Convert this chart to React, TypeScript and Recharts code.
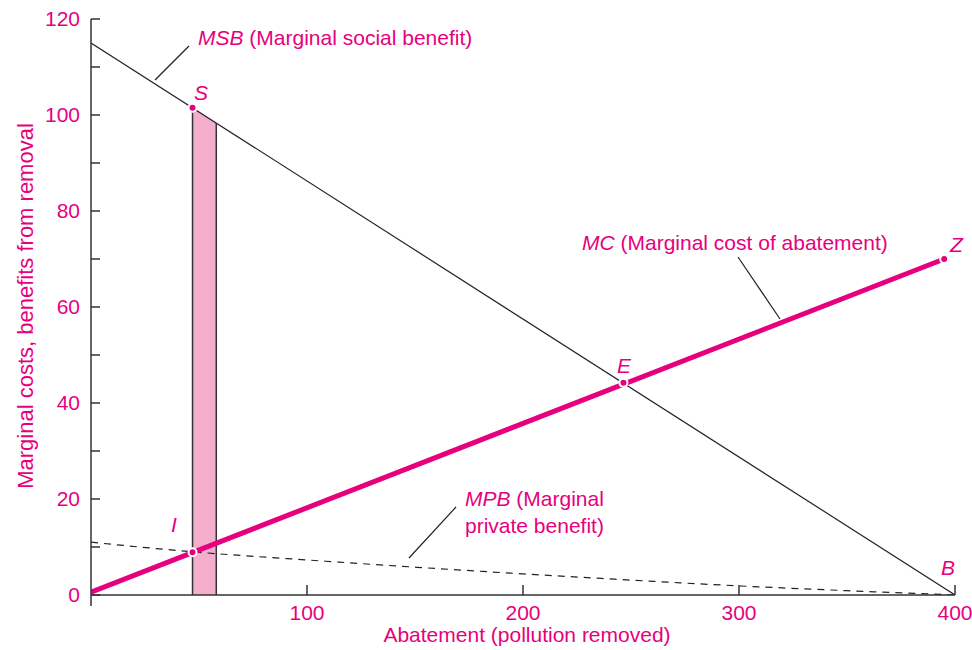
import React from "react";
import {
  ComposedChart,
  Line,
  Area,
  XAxis,
  YAxis,
  ReferenceDot,
  ReferenceLine,
} from "recharts";

const PINK = "#e6007e";
const SHADE = "#f4adcd";
const INK = "#333333";
const FONT = '"Liberation Sans", Arial, Helvetica, sans-serif';

// curves (x = abatement, y = $)
const msb = [
  { x: 0, y: 115 },
  { x: 400, y: 0 },
];
const mc = [
  { x: 0, y: 0.6 },
  { x: 395, y: 70 },
];
const mpb = [
  { x: 0, y: 11 },
  { x: 47, y: 9 },
  { x: 100, y: 7.3 },
  { x: 150, y: 5.8 },
  { x: 200, y: 4.4 },
  { x: 250, y: 3.1 },
  { x: 300, y: 1.9 },
  { x: 350, y: 0.9 },
  { x: 400, y: 0 },
];
// shaded strip under MSB between 47 and 58 units
const band = [
  { x: 47, y: 101.5 },
  { x: 58, y: 98.3 },
];
const points = [
  { name: "S", x: 47, y: 101.5 },
  { name: "I", x: 47, y: 8.9 },
  { name: "E", x: 246.5, y: 44.2 },
  { name: "Z", x: 395, y: 70 },
];
const xTicks = [100, 200, 300, 400];
const yTicks = [0, 10, 20, 30, 40, 50, 60, 70, 80, 90, 100, 110, 120];

const txt = { fill: PINK, fontFamily: FONT, fontSize: 21 };

export default function App() {
  return (
    <div style={{ position: "absolute", left: 0, top: 0, background: "#fff" }}>
      <ComposedChart
        width={972}
        height={650}
        margin={{ top: 19, right: 17, left: 31, bottom: 25 }}
      >
        <XAxis
          type="number"
          dataKey="x"
          domain={[0, 400]}
          ticks={xTicks}
          allowDataOverflow
          stroke={INK}
          strokeWidth={1.5}
          tickSize={-10}
          tickMargin={20}
          tick={{ ...txt }}
        />
        <YAxis
          type="number"
          domain={[0, 120]}
          ticks={yTicks}
          allowDataOverflow
          stroke={INK}
          strokeWidth={1.5}
          tickSize={-9}
          tickMargin={20}
          tick={{ ...txt }}
          tickFormatter={(v: number) => (v % 20 === 0 ? String(v) : "")}
        />

        <Area
          data={band}
          dataKey="y"
          type="linear"
          fill={SHADE}
          fillOpacity={1}
          stroke="none"
          isAnimationActive={false}
        />
        {band.map((b) => (
          <ReferenceLine
            key={b.x}
            segment={[
              { x: b.x, y: 0 },
              { x: b.x, y: b.y },
            ]}
            stroke={INK}
            strokeWidth={1.5}
          />
        ))}

        <Line
          data={msb}
          dataKey="y"
          type="linear"
          stroke="#222"
          strokeWidth={1.2}
          dot={false}
          activeDot={false}
          isAnimationActive={false}
        />
        <Line
          data={mpb}
          dataKey="y"
          type="monotone"
          stroke="#222"
          strokeWidth={1.2}
          strokeDasharray="7 6"
          dot={false}
          activeDot={false}
          isAnimationActive={false}
        />
        <Line
          data={mc}
          dataKey="y"
          type="linear"
          stroke={PINK}
          strokeWidth={5}
          dot={false}
          activeDot={false}
          isAnimationActive={false}
        />

        {points.map((p) => (
          <ReferenceDot
            key={p.name}
            x={p.x}
            y={p.y}
            r={4}
            fill={PINK}
            stroke="#fff"
            strokeWidth={2}
            ifOverflow="visible"
          />
        ))}

        {/* y axis runs a little below the x axis */}
        <line x1={91} y1={595} x2={91} y2={606} stroke={INK} strokeWidth={1.5} />

        {/* point letters */}
        <text x={194} y={100} {...txt} fontStyle="italic">S</text>
        <text x={171} y={532} {...txt} fontStyle="italic">I</text>
        <text x={617} y={373} {...txt} fontStyle="italic">E</text>
        <text x={950} y={252} {...txt} fontStyle="italic">Z</text>
        <text x={941} y={575} {...txt} fontStyle="italic">B</text>

        {/* curve labels and leaders */}
        <text x={198} y={45} {...txt}>
          <tspan fontStyle="italic">MSB</tspan> (Marginal social benefit)
        </text>
        <line x1={155} y1={80} x2={189} y2={46} stroke="#222" strokeWidth={1.2} />

        <text x={582} y={250} {...txt}>
          <tspan fontStyle="italic">MC</tspan> (Marginal cost of abatement)
        </text>
        <line x1={738} y1={257} x2={780} y2={319} stroke="#222" strokeWidth={1.2} />

        <text x={465} y={506} {...txt}>
          <tspan fontStyle="italic">MPB</tspan> (Marginal
        </text>
        <text x={465} y={533} {...txt}>private benefit)</text>
        <line x1={456} y1={507} x2={409} y2={558} stroke="#222" strokeWidth={1.2} />

        {/* axis titles */}
        <text x={527} y={642} {...txt} textAnchor="middle">
          Abatement (pollution removed)
        </text>
        <text
          x={-306}
          y={33}
          transform="rotate(-90)"
          {...txt}
          fontSize={22}
          textAnchor="middle"
        >
          Marginal costs, benefits from removal
        </text>
      </ComposedChart>
    </div>
  );
}
